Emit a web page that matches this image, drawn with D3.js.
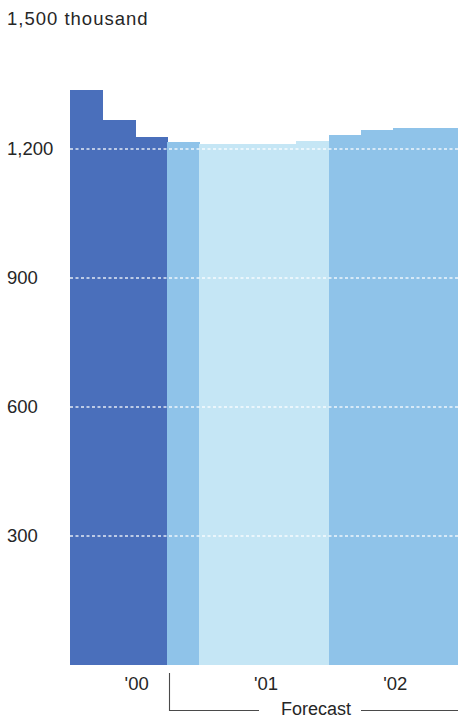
<!DOCTYPE html>
<html>
<head>
<meta charset="utf-8">
<script src="https://cdn.jsdelivr.net/npm/d3@7"></script>
<style>
  html, body { margin: 0; padding: 0; background: #ffffff; }
  svg { display: block; }
  text { font-family: "Liberation Sans", Arial, Helvetica, sans-serif; fill: #262626; }
</style>
</head>
<body>
<svg id="chart" width="458" height="719"></svg>
<script>
// ---- data ----
const quarters = ["2000Q1","2000Q2","2000Q3","2000Q4",
                  "2001Q1","2001Q2","2001Q3","2001Q4",
                  "2002Q1","2002Q2","2002Q3","2002Q4"];
const values   = [1338, 1267, 1229, 1216,
                  1212, 1212, 1212, 1219,
                  1233, 1244, 1248, 1249];
// group: actual / forecast in 2000 / 2001 / 2002
const groups   = ["actual","actual","actual","fc00",
                  "fc01","fc01","fc01","fc01",
                  "fc02","fc02","fc02","fc02"];
const yTicks = [300, 600, 900, 1200];
const yearLabels = ["'00", "'01", "'02"];
const yearStartQuarter = ["2000Q1", "2001Q1", "2002Q1"];

const colors = {
  actual: "#4a6fbb",
  fc00: "#8fc3e9",
  fc01: "#c5e6f5",
  fc02: "#8fc3e9"
};

// ---- layout ----
const svg = d3.select("#chart");
const x = d3.scaleBand().domain(quarters).range([70, 458]).padding(0);
const y = d3.scaleLinear().domain([0, 1500]).range([665, 20]);

const xl = q => Math.round(x(q));
const xr = q => Math.round(x(q) + x.bandwidth());

// bars
svg.append("g").attr("shape-rendering", "crispEdges").selectAll("rect")
  .data(quarters.map((q, i) => ({ q, v: values[i], g: groups[i] })))
  .join("rect")
  .attr("x", d => xl(d.q))
  .attr("width", d => xr(d.q) - xl(d.q) + 1)
  .attr("y", d => Math.round(y(d.v)))
  .attr("height", d => Math.round(y(0)) - Math.round(y(d.v)))
  .attr("fill", d => colors[d.g]);

// gridlines (white dashed over bars)
svg.append("g").selectAll("line")
  .data(yTicks)
  .join("line")
  .attr("x1", 70).attr("x2", 458)
  .attr("y1", d => y(d)).attr("y2", d => y(d))
  .attr("stroke", "#ffffff")
  .attr("stroke-opacity", 0.85)
  .attr("stroke-width", 1.3)
  .attr("stroke-dasharray", "3,2.5");

// y tick labels
svg.append("g").selectAll("text")
  .data(yTicks)
  .join("text")
  .attr("x", 7)
  .attr("y", d => y(d))
  .attr("dy", "0.35em")
  .attr("font-size", 18.5)
  .text(d => d3.format(",")(d));

// top label
svg.append("text")
  .attr("x", 7).attr("y", 25)
  .attr("font-size", 18.5)
  .attr("letter-spacing", 1)
  .text(d3.format(",")(1500) + " thousand");

// x year labels, centred on each year (4 quarters)
svg.append("g").selectAll("text")
  .data(yearLabels)
  .join("text")
  .attr("x", (d, i) => x(yearStartQuarter[i]) + 2 * x.bandwidth() + 2)
  .attr("y", 690)
  .attr("text-anchor", "middle")
  .attr("font-size", 18.5)
  .text(d => d);

// Forecast bracket
const fx = xl("2000Q4") + 2.5;
const bracket = svg.append("g").attr("stroke", "#4a4a4a").attr("stroke-width", 1.1).attr("fill", "none");
bracket.append("path").attr("d", `M${fx},673 V710.5 H259`);
bracket.append("line").attr("x1", 361).attr("x2", 458).attr("y1", 710.5).attr("y2", 710.5);
svg.append("text")
  .attr("x", 316).attr("y", 714.5)
  .attr("text-anchor", "middle")
  .attr("font-size", 18)
  .text("Forecast");
</script>
</body>
</html>
